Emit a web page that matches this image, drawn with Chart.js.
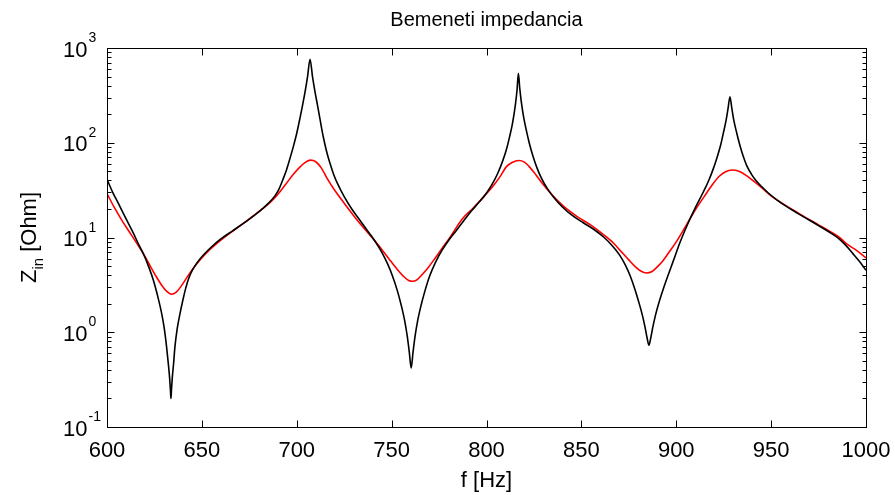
<!DOCTYPE html>
<html>
<head>
<meta charset="utf-8">
<title>Bemeneti impedancia</title>
<script src="https://cdn.jsdelivr.net/npm/chart.js@4.4.1/dist/chart.umd.min.js"></script>
<style>
  html, body { margin: 0; padding: 0; background: #fff; }
  canvas { display: block; }
</style>
</head>
<body>
<canvas id="impedancia" width="895" height="495"></canvas>
<script>
// Frekvencia [Hz] es bemeneti impedancia [Ohm], csillapitas nelkul (fekete)
const freqBlack = [600, 603, 606, 610, 613.9, 617, 619.1, 622, 624.4, 626.5, 628.8, 630.2, 631.4, 632.3, 633, 633.4, 633.7, 634, 634.4, 635.1, 635.8, 637, 638.5, 640, 641.5, 643, 645, 647.5, 650.8, 655, 660, 666, 673, 680, 685, 688.5, 690.5, 692.5, 694.5, 696.4, 698.2, 700, 701.7, 703, 704.4, 705.7, 707, 708.3, 709.6, 711, 712.3, 714, 715.8, 717.6, 719.5, 721.5, 725, 729, 733, 737, 741, 745, 748, 750.5, 753, 755, 756.8, 758.2, 759.3, 760.3, 761.3, 762.4, 763.8, 765.6, 767.6, 770, 773, 776.5, 780, 784, 788, 792, 796, 800, 803, 806, 808.5, 810.5, 812.2, 813.7, 815.2, 816.1, 816.8, 817.5, 818.4, 819.5, 821, 822.5, 824.5, 826.5, 829, 832, 835.5, 840, 845, 851, 857, 862, 866.5, 870, 873, 875.8, 878.2, 880.2, 882.2, 883.6, 884.7, 885.6, 886.5, 887.6, 889, 891, 893, 895.5, 898.5, 902, 906, 910, 914, 917, 919.5, 921.5, 923.3, 924.8, 926.2, 927.3, 928.3, 929.3, 930.4, 931.9, 933.6, 935.3, 937.2, 939.5, 942, 945, 948.5, 953, 958, 964, 970, 976, 981, 985.5, 989.5, 993, 996.5, 1000];
const zBlack = [41, 30, 22.9, 15.8, 11.1, 8.2, 6.8, 4.9, 3.56, 2.5, 1.58, 1.09, 0.70, 0.47, 0.33, 0.25, 0.2, 0.25, 0.33, 0.47, 0.70, 1.09, 1.58, 2.19, 2.92, 3.67, 4.52, 5.43, 6.53, 7.94, 9.66, 11.7, 14.6, 18.6, 22.9, 27.5, 32, 40, 51, 68, 91, 126, 182, 245, 347, 500, 760, 500, 347, 245, 175, 115, 80, 60, 46, 37, 27, 20, 15.5, 12, 9.3, 6.9, 5.2, 3.9, 2.75, 1.95, 1.35, 0.92, 0.62, 0.42, 0.62, 0.92, 1.35, 1.95, 2.75, 3.9, 5.4, 7.3, 9.3, 11.8, 15, 19, 23.5, 29.5, 36.5, 48, 64, 85, 116, 160, 250, 360, 540, 380, 265, 190, 135, 100, 72, 55, 42, 33, 26.5, 21, 17.2, 14.3, 12, 10, 8.1, 6.6, 5.2, 3.9, 2.85, 2.1, 1.5, 1.12, 0.86, 0.73, 0.86, 1.12, 1.5, 2.1, 2.8, 3.9, 5.7, 8.9, 13.8, 20.5, 29.5, 39.5, 53, 70, 93, 126, 170, 230, 306, 230, 170, 126, 93, 72, 57, 47, 40, 34.5, 29.5, 25, 21.3, 18, 15.3, 13, 11.3, 9.8, 8.2, 6.8, 5.6, 4.5];

// csillapitassal (piros)
const freqRed = [600, 604, 608, 612, 616, 620, 623, 626, 629, 631.5, 634, 636.5, 639, 642, 645, 649, 654, 660, 667, 674, 681, 686, 690, 694, 698, 701.5, 704.5, 707.3, 710, 713, 716, 720, 725, 730, 735, 740, 745, 749, 753, 756.5, 759, 761, 763.5, 766, 769, 772, 776, 781, 787, 793, 799, 804, 807.5, 810.5, 813.5, 817, 820, 822.5, 826, 830, 835, 841, 848, 855, 862, 867, 871, 875, 878.5, 881.5, 884.3, 887, 890, 893, 896, 900, 905, 910, 915, 919, 922.5, 926, 929.5, 933, 937, 941, 945, 950, 955, 961, 968, 975, 981, 986, 990, 995, 1000];
const zRed = [29, 20.5, 15, 11.3, 8.5, 6.3, 4.9, 3.85, 3.1, 2.7, 2.52, 2.65, 3.05, 3.75, 4.6, 5.8, 7.4, 9.4, 12, 15.2, 19.5, 23.5, 28.5, 36, 46, 55, 62, 65.5, 63, 54, 42, 31.5, 23, 17, 12.8, 9.8, 7.4, 5.8, 4.6, 3.85, 3.52, 3.45, 3.6, 4.05, 4.75, 5.7, 7.4, 10.2, 15.5, 20.5, 27.5, 36, 45, 56, 62, 65, 62.5, 56, 46, 36, 27.5, 21, 16.5, 13.5, 10.6, 8.7, 7.1, 5.8, 4.9, 4.4, 4.22, 4.35, 4.9, 5.7, 6.9, 9.0, 13.2, 19.5, 27.5, 36, 44, 49.5, 51.5, 50, 45, 39, 33.5, 27.5, 23.5, 19.8, 16.3, 13.6, 11.6, 10, 8.5, 7.3, 6.1];

// tengely beosztasok
const xTicks = [600, 650, 700, 750, 800, 850, 900, 950, 1000];
const yTicks = [0.1, 1, 10, 100, 1000];
const yExponents = ["-1", "0", "1", "2", "3"];

const FONT = "'Liberation Sans', Arial, sans-serif";

function toPoints(xs, ys) {
  return xs.map((x, i) => ({ x: x, y: ys[i] }));
}

// keret, befele allo osztasok, feliratok (MATLAB stilus)
const keretPlugin = {
  id: "keret",
  afterDraw(chart) {
    const ctx = chart.ctx;
    const area = chart.chartArea;
    const xs = chart.scales.x;
    const ys = chart.scales.y;
    const L = Math.round(area.left) + 0.5;
    const R = Math.round(area.right) + 0.5;
    const T = Math.round(area.top) + 0.5;
    const B = Math.round(area.bottom) + 0.5;

    ctx.save();
    ctx.strokeStyle = "#000";
    ctx.lineWidth = 1;
    ctx.strokeRect(L, T, R - L, B - T);

    ctx.beginPath();
    xTicks.forEach(v => {
      const px = Math.round(xs.getPixelForValue(v)) + 0.5;
      ctx.moveTo(px, B); ctx.lineTo(px, B - 7);
      ctx.moveTo(px, T); ctx.lineTo(px, T + 7);
    });
    yTicks.forEach((v, i) => {
      const py = Math.round(ys.getPixelForValue(v)) + 0.5;
      ctx.moveTo(L, py); ctx.lineTo(L + 7, py);
      ctx.moveTo(R, py); ctx.lineTo(R - 7, py);
      if (i < yTicks.length - 1) {
        for (let m = 2; m <= 9; m++) {
          const pm = Math.round(ys.getPixelForValue(v * m)) + 0.5;
          ctx.moveTo(L, pm); ctx.lineTo(L + 4, pm);
          ctx.moveTo(R, pm); ctx.lineTo(R - 4, pm);
        }
      }
    });
    ctx.stroke();

    ctx.fillStyle = "#000";
    // x feliratok
    ctx.font = "22px " + FONT;
    ctx.textAlign = "center";
    ctx.textBaseline = "alphabetic";
    xTicks.forEach(v => {
      ctx.fillText(String(v), xs.getPixelForValue(v), 457);
    });

    // y feliratok: 10 a hatvanyon
    yTicks.forEach((v, i) => {
      const py = ys.getPixelForValue(v);
      ctx.font = "22px " + FONT;
      ctx.textAlign = "right";
      ctx.fillText("10", 87.5, py + 8.5);
      ctx.font = "14px " + FONT;
      ctx.textAlign = "left";
      ctx.fillText(yExponents[i], 88.5, py - 6);
    });

    const cx = (area.left + area.right) / 2;
    const cy = (area.top + area.bottom) / 2;

    // cim
    ctx.font = "20px " + FONT;
    ctx.textAlign = "center";
    ctx.fillText("Bemeneti impedancia", cx, 25.5);

    // x tengely cim
    ctx.font = "22px " + FONT;
    ctx.fillText("f [Hz]", cx, 487);

    // y tengely cim, also index
    ctx.translate(36, cy);
    ctx.rotate(-Math.PI / 2);
    ctx.font = "22px " + FONT;
    const wZ = ctx.measureText("Z").width;
    ctx.font = "15px " + FONT;
    const wIn = ctx.measureText("in").width;
    ctx.font = "22px " + FONT;
    const wRest = ctx.measureText(" [Ohm]").width;
    const x0 = -(wZ + wIn + wRest) / 2;
    ctx.textAlign = "left";
    ctx.fillText("Z", x0, 0);
    ctx.font = "15px " + FONT;
    ctx.fillText("in", x0 + wZ, 6.5);
    ctx.font = "22px " + FONT;
    ctx.fillText(" [Ohm]", x0 + wZ + wIn, 0);
    ctx.restore();
  }
};

const ctx = document.getElementById("impedancia").getContext("2d");

new Chart(ctx, {
  type: "line",
  data: {
    datasets: [
      {
        label: "csillapitatlan",
        data: toPoints(freqBlack, zBlack),
        borderColor: "#000000",
        borderWidth: 1.6,
        pointRadius: 0,
        fill: false,
        cubicInterpolationMode: "monotone"
      },
      {
        label: "csillapitott",
        data: toPoints(freqRed, zRed),
        borderColor: "#ff0000",
        borderWidth: 1.6,
        pointRadius: 0,
        fill: false,
        cubicInterpolationMode: "monotone"
      }
    ]
  },
  options: {
    responsive: false,
    animation: false,
    devicePixelRatio: 1,
    layout: { padding: { left: 0, right: 29, top: 48, bottom: 0 } },
    plugins: {
      legend: { display: false },
      title: { display: false },
      tooltip: { enabled: false }
    },
    scales: {
      x: {
        type: "linear",
        min: 600,
        max: 1000,
        grid: { display: false },
        border: { display: false },
        ticks: { display: false },
        afterFit: scale => { scale.height = 68; }
      },
      y: {
        type: "logarithmic",
        min: 0.1,
        max: 1000,
        grid: { display: false },
        border: { display: false },
        ticks: { display: false },
        afterFit: scale => { scale.width = 107; }
      }
    }
  },
  plugins: [keretPlugin]
});
</script>
</body>
</html>
